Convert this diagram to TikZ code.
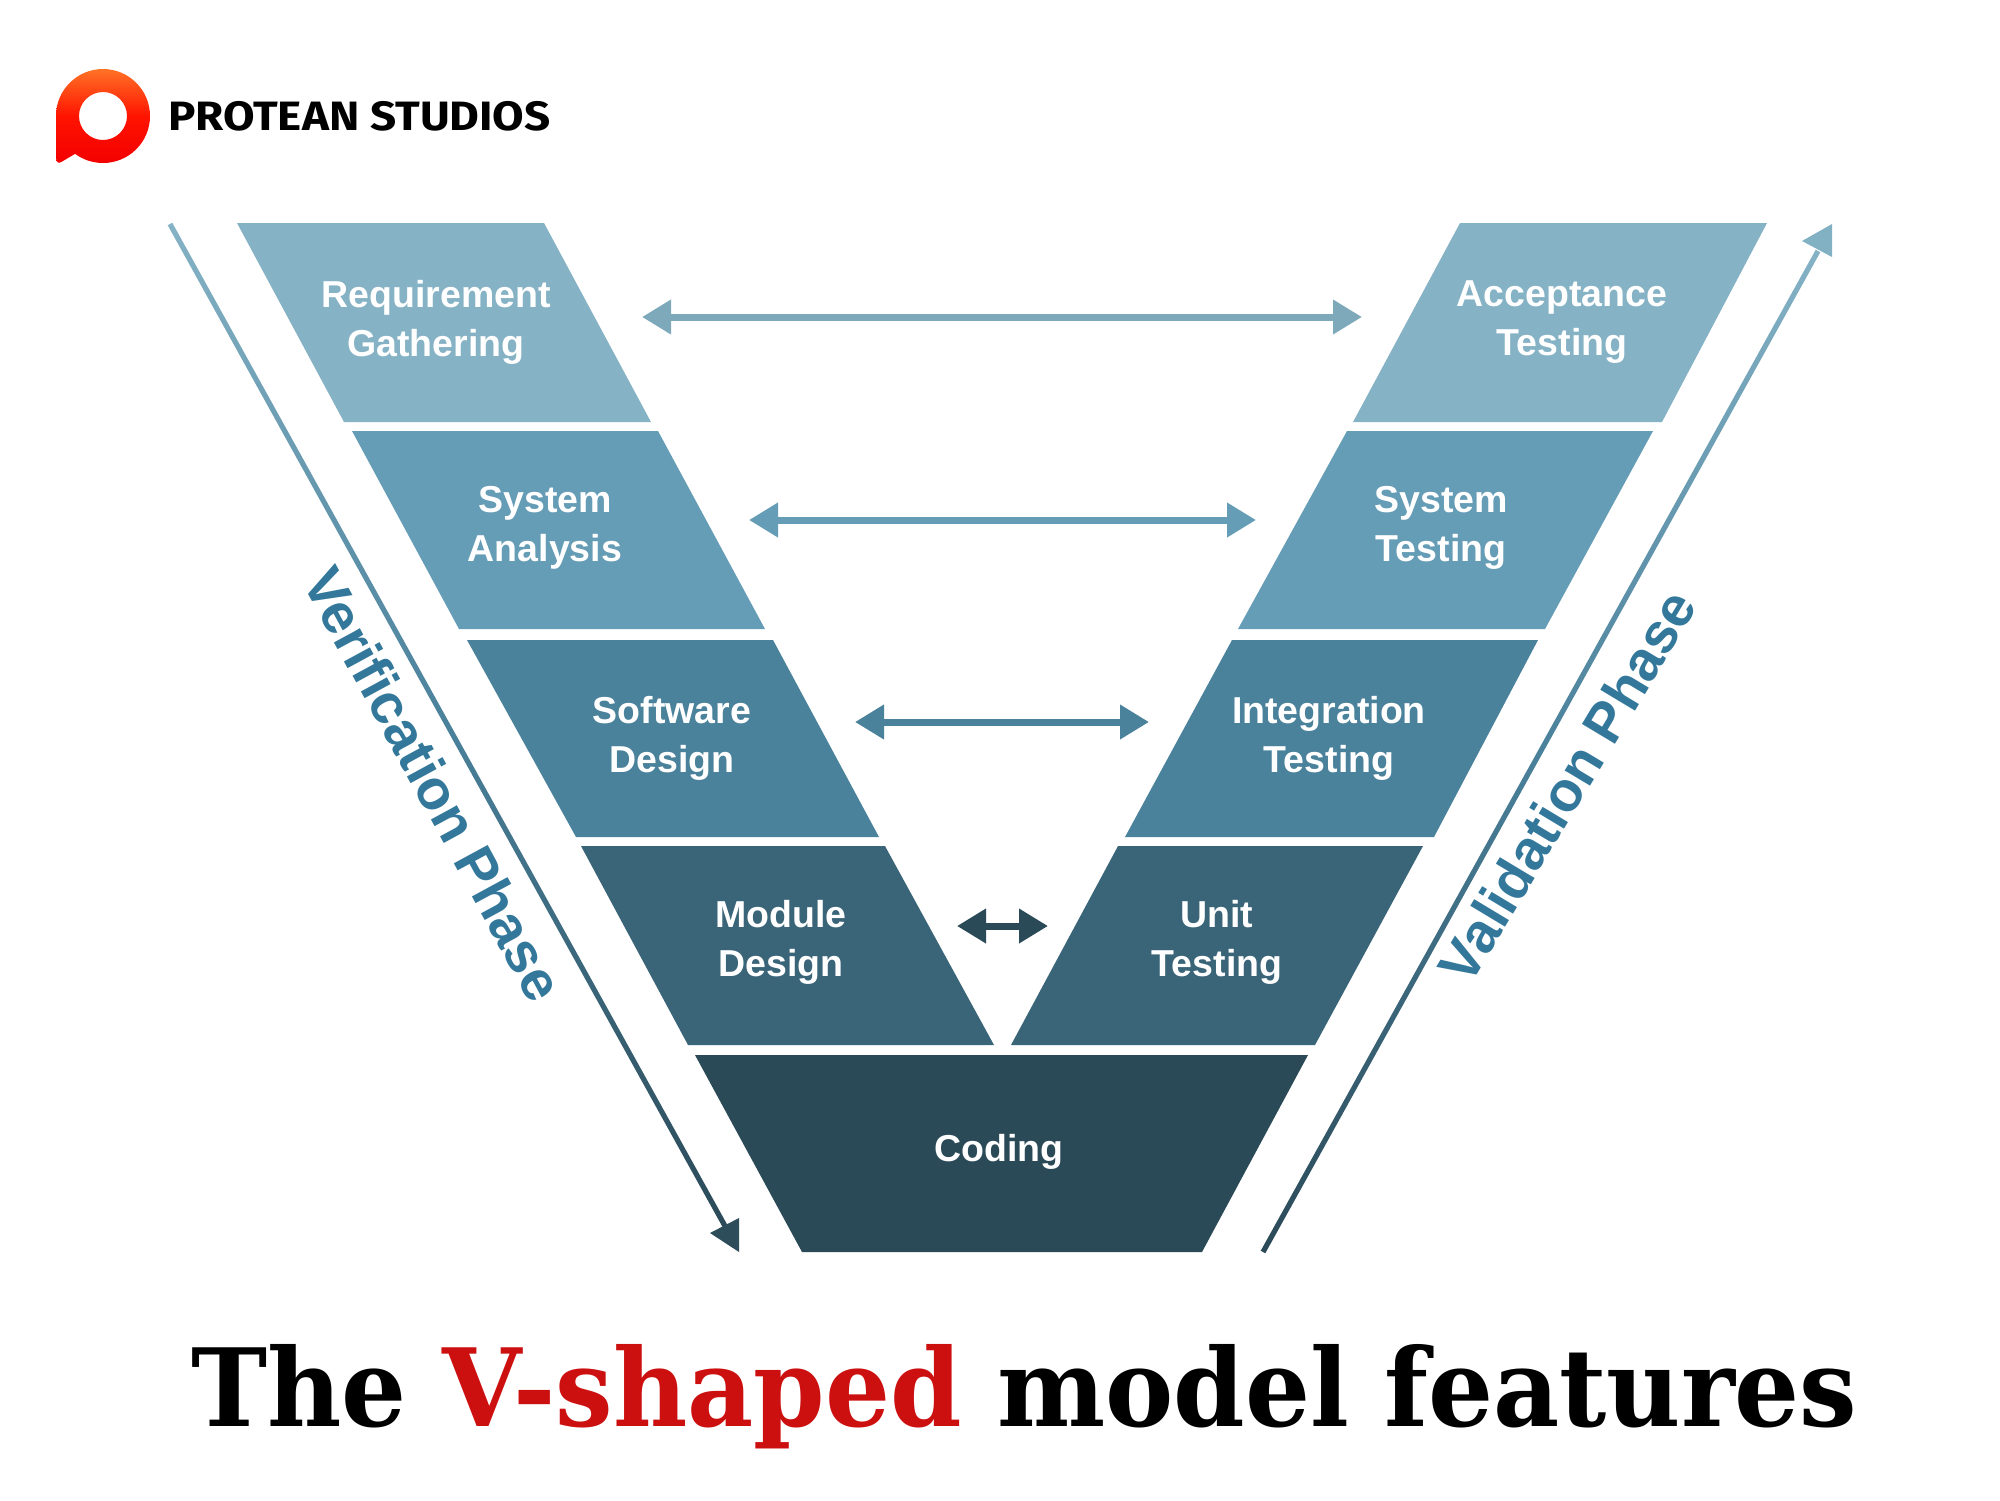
\documentclass[tikz,border=0pt]{standalone}
\usepackage{fontspec}
\usetikzlibrary{arrows.meta,calc}
\setmainfont{Liberation Sans}
\newfontfamily\labelfont{Liberation Sans Bold}
\newfontfamily\brandfont{Fira Sans Bold}
\newfontfamily\titlefont{DejaVu Serif Condensed Bold}
\definecolor{cA}{HTML}{85B2C5}
\definecolor{cB}{HTML}{659CB6}
\definecolor{cC}{HTML}{4A819B}
\definecolor{cD}{HTML}{3A6578}
\definecolor{cE}{HTML}{2B4A58}
\definecolor{sidetxt}{HTML}{33789A}
\definecolor{titlered}{HTML}{CC1010}
\tikzset{
  x=1pt,y=-1pt,
  stagelabel/.style={text=white,font=\labelfont\fontsize{37.5}{49}\selectfont,align=center,inner sep=0pt},
  sidelabel/.style={text=sidetxt,font=\labelfont\fontsize{56}{60}\selectfont,inner sep=0pt},
  link/.style={line width=7pt,{Triangle[length=29pt,width=33pt]}-{Triangle[length=29pt,width=33pt]}},
}
\newcommand{\trapshape}[6]{\fill[#6] (#2) -- (#3) -- (#4) -- (#5) -- cycle;}
\begin{document}
\begin{tikzpicture}
\useasboundingbox (0,0) rectangle (2000,1500);
% logo
\shade[top color=orange!70!red!85!white,bottom color=red!95!black,middle color=red!85!orange,even odd rule]
  (56,116) arc[start angle=180,end angle=-126.4,radius=47pt]
  -- (63,161) .. controls (59,164) and (56,163) .. (56,158) -- cycle
  (127,116) arc[start angle=0,end angle=360,radius=24pt];
\node[anchor=base west,inner sep=0pt,xscale=1.115,font=\brandfont\fontsize{41}{41}\selectfont] (brand) at (168,130) {PROTEAN STUDIOS};
% stages
\trapshape{s1}{237,223}{544,223}{651,422}{344,422}{cA}
\trapshape{s2}{352,431}{658,431}{765,629}{459,629}{cB}
\trapshape{s3}{467,640}{773,640}{879,837}{576,837}{cC}
\trapshape{s4}{581,846}{885,846}{994,1045}{688,1045}{cD}
\trapshape{s5}{695,1055}{1308,1055}{1202,1252}{802,1252}{cE}
\trapshape{s6}{1118,846}{1423,846}{1315,1045}{1011,1045}{cD}
\trapshape{s7}{1232,640}{1538,640}{1434,837}{1125,837}{cC}
\trapshape{s8}{1347,431}{1653,431}{1545,629}{1238,629}{cB}
\trapshape{s9}{1460,223}{1767,223}{1662,422}{1353,422}{cA}
\node[stagelabel] (req) at (436,322) {Requirement\\Gathering};
\node[stagelabel] (ana) at (545,528) {System\\Analysis};
\node[stagelabel] (sw) at (672,738) {Software\\Design};
\node[stagelabel] (mod) at (781,942) {Module\\Design};
\node[stagelabel] (cod) at (999,1152) {Coding};
\node[stagelabel] (unit) at (1217,942) {Unit\\Testing};
\node[stagelabel] (int) at (1329,738) {Integration\\Testing};
\node[stagelabel] (sys) at (1441,528) {System\\Testing};
\node[stagelabel] (acc) at (1562,322) {Acceptance\\Testing};
% horizontal links
\coordinate (l1) at (642,317); \coordinate (r1) at (1362,317);
\coordinate (l2) at (749,520); \coordinate (r2) at (1256,520);
\coordinate (l3) at (855,722); \coordinate (r3) at (1149,722);
\coordinate (l4) at (957,926); \coordinate (r4) at (1048,926);
\draw[link,color=cA!95!black] (l1) -- (r1);
\draw[link,color=cB] (l2) -- (r2);
\draw[link,color=cC] (l3) -- (r3);
\draw[link,color=cE] (l4) -- (r4);
% side arrows
\coordinate (va) at (170,224); \coordinate (vb) at (725,1226); \coordinate (vt) at (739,1252);
\shade[top color=cA,bottom color=cE,middle color=cC]
  ($(va)!2.6pt!90:(vb)$) -- ($(va)!2.6pt!-90:(vb)$) -- ($(vb)!2.6pt!90:(va)$) -- ($(vb)!2.6pt!-90:(va)$) -- cycle;
\fill[cE!90!cD] (vt) -- (739,1218) -- (710,1233) -- cycle;
\coordinate (wa) at (1263,1252); \coordinate (wb) at (1818,251); \coordinate (wt) at (1832,224);
\shade[top color=cA,bottom color=cE,middle color=cC]
  ($(wa)!2.6pt!90:(wb)$) -- ($(wa)!2.6pt!-90:(wb)$) -- ($(wb)!2.6pt!90:(wa)$) -- ($(wb)!2.6pt!-90:(wa)$) -- cycle;
\fill[cA!95!cB] (wt) -- (1832,257) -- (1802,241) -- cycle;
\node[sidelabel,rotate=-61.5] (ver) at (434,784) {Verification Phase};
\node[sidelabel,rotate=59] (val) at (1567,786) {Validation Phase};
% title
\node[anchor=base west,inner sep=0pt,xscale=1.052,font=\titlefont\fontsize{108}{108}\selectfont] (title) at (191,1426) {The \textcolor{titlered}{V-shaped} model features};
\end{tikzpicture}
\end{document}
